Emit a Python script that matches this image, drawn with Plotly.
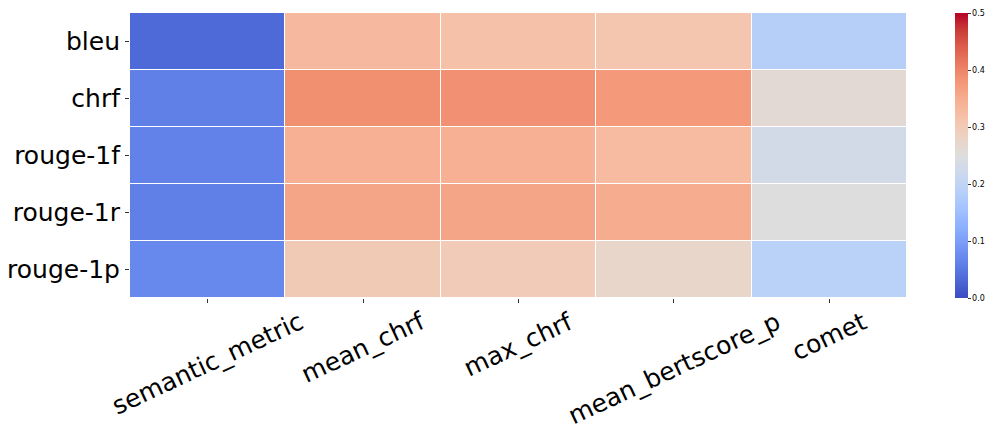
import plotly.graph_objects as go

rows = ["bleu", "chrf", "rouge-1f", "rouge-1r", "rouge-1p"]
cols = ["semantic_metric", "mean_chrf", "max_chrf", "mean_bertscore_p", "comet"]

bleu = [0.033, 0.330, 0.317, 0.308, 0.185]
chrf = [0.060, 0.388, 0.387, 0.375, 0.262]
rouge_1f = [0.063, 0.345, 0.345, 0.328, 0.230]
rouge_1r = [0.060, 0.360, 0.360, 0.350, 0.250]
rouge_1p = [0.070, 0.300, 0.297, 0.273, 0.190]
values = [bleu, chrf, rouge_1f, rouge_1r, rouge_1p]

cbar_ticks = [0.0, 0.1, 0.2, 0.3, 0.4, 0.5]

coolwarm = [
    [0.0, "rgb(59,76,192)"], [0.0625, "rgb(77,104,215)"], [0.125, "rgb(98,130,234)"],
    [0.1875, "rgb(119,154,247)"], [0.25, "rgb(141,176,254)"], [0.3125, "rgb(163,194,255)"],
    [0.375, "rgb(184,208,249)"], [0.4375, "rgb(204,217,238)"], [0.5, "rgb(221,221,221)"],
    [0.5625, "rgb(236,211,197)"], [0.625, "rgb(245,196,172)"], [0.6875, "rgb(247,177,148)"],
    [0.75, "rgb(244,154,123)"], [0.8125, "rgb(236,127,99)"], [0.875, "rgb(222,96,77)"],
    [0.9375, "rgb(203,62,56)"], [1.0, "rgb(180,4,38)"],
]

FONT = "DejaVu Sans"

fig = go.Figure(go.Heatmap(
    z=values, x=cols, y=rows, zmin=0, zmax=0.5, colorscale=coolwarm,
    xgap=1, ygap=1,
    colorbar=dict(
        x=1.0618, xanchor="left", xpad=0, y=0.5, yanchor="middle", len=1, lenmode="fraction",
        ypad=0,
        thickness=13, outlinewidth=0, tickvals=cbar_ticks,
        ticktext=[f"{t:.1f}" for t in cbar_ticks],
        ticks="outside", ticklen=3, tickcolor="#333", tickwidth=1,
        ticklabeloverflow="allow",
        tickfont=dict(family=FONT, size=8, color="black"),
    ),
))

for c in cols:
    fig.add_annotation(
        x=c, xref="x", y=0, yref="paper", yanchor="top", xanchor="center",
        yshift=-6, text=c, textangle=-25, showarrow=False,
        font=dict(family=FONT, size=25, color="black"),
    )

fig.update_xaxes(showticklabels=False, ticks="outside", ticklen=4, tickcolor="#333",
                 range=[-0.5, len(cols) - 0.5], autorange=False,
                 showgrid=False, zeroline=False, showline=False, automargin=False)
fig.update_yaxes(range=[len(rows) - 0.5, -0.5], autorange=False,
                 ticks="outside", ticklen=4, tickcolor="#333",
                 showgrid=False, zeroline=False, showline=False, automargin=False,
                 tickfont=dict(family=FONT, size=25, color="black"))

fig.update_layout(
    width=981, height=421,
    margin=dict(l=122, r=82, t=5, b=131, autoexpand=False),
    plot_bgcolor="white", paper_bgcolor="white",
    font=dict(family=FONT),
)

fig.write_html("out.html")
